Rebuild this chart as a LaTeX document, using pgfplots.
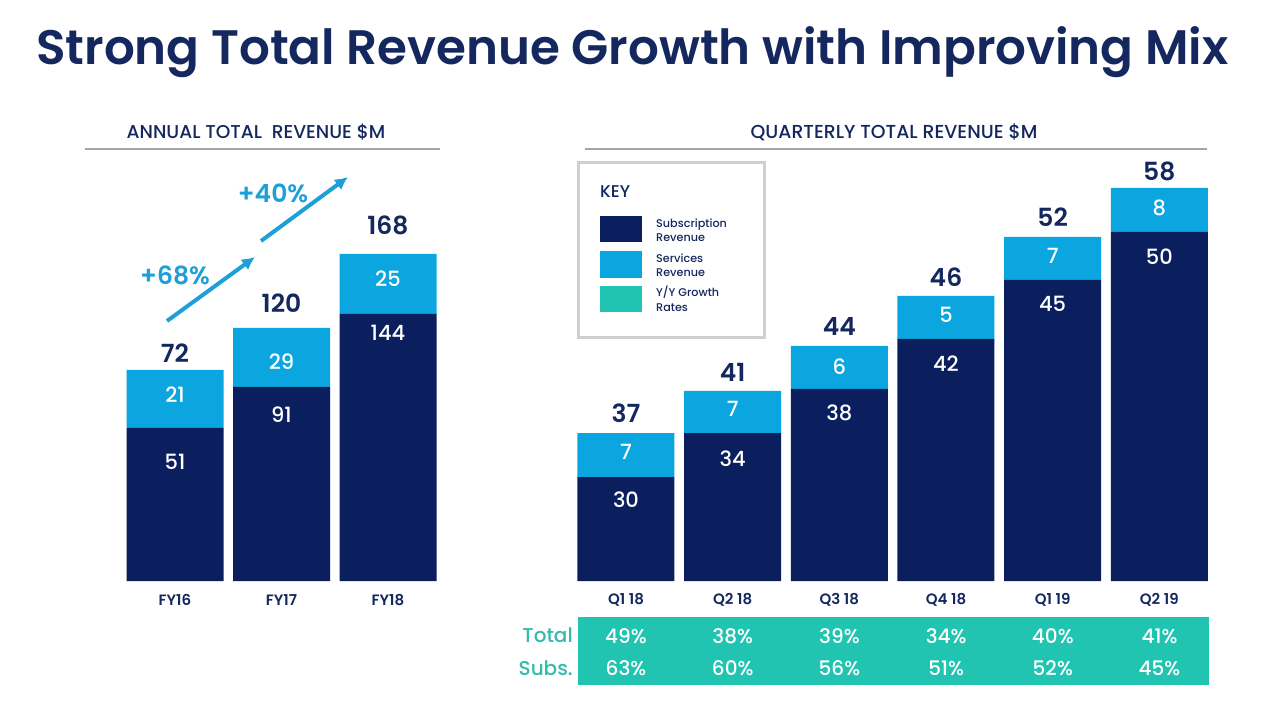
\documentclass[border=0pt]{standalone}
\usepackage{fontspec}
\setmainfont{Poppins Medium}[BoldFont={Poppins SemiBold}]
\usepackage{pgfplots}
\pgfplotsset{compat=1.18}
\usepackage{pgfplotstable}
\usetikzlibrary{arrows.meta}

\definecolor{navy}{HTML}{0B1F5E}
\definecolor{sky}{HTML}{0BA6DF}
\definecolor{tealc}{HTML}{20C4B0}
\definecolor{titleblue}{HTML}{14285F}
\definecolor{arrowblue}{HTML}{1DA0D8}
\definecolor{keygray}{HTML}{CDCFD2}
\definecolor{linegray}{HTML}{A3A5A8}
\definecolor{tabletext}{HTML}{34BBAB}

% subh, servh: drawn bar heights of the (not-to-scale) original;
% ysub, yserv, ytot: where its labels sit; sub, serv, total: the values
\pgfplotstableread{
x subh servh ysub yserv ytot sub serv total
0 153 58 119 186 228 51 21 72
1 194 59 166 219 278 91 29 120
2 267 60 248 302 356 144 25 168
}\annual

\pgfplotstableread{
x subh servh ysub yserv ytot sub serv total
0 104 44 81 129 168 30 7 37
1 148 42 122 172 209 34 7 41
2 192 43 168 214 254 38 6 44
3 242 43 217 266 304 42 5 46
4 301 43 277 325 364 45 7 52
5 349 44 324 373 410 50 8 58
}\quarterly

\newcommand{\fs}[1]{\fontsize{#1}{#1}\selectfont}

\pgfplotsset{
  frame/.style={
    scale only axis, height=400pt,
    ymin=0, ymax=400,
    clip=false,
  },
  revbars/.style={
    frame,
    ybar stacked, bar width=97pt,
    axis line style={draw=none}, tick style={draw=none},
    ytick=\empty, xtick=data,
    xticklabel style={font=\fs{15}\bfseries, text=titleblue, anchor=center, yshift=-19pt},
  },
  labels/.style={frame, hide axis},
  lab/.style={only marks, mark=none, nodes near coords={\pgfplotspointmeta},
    point meta=explicit symbolic,
    nodes near coords style={anchor=center, inner sep=0pt, #1}},
}

\begin{document}
\begin{tikzpicture}[x=1pt,y=1pt]
\fill[white] (0,0) rectangle (1280,705);
\useasboundingbox (0,0) rectangle (1280,705);

% title
\node[anchor=base west, text=titleblue, inner sep=0] at (36,705-65)
  {\fs{48.4}\bfseries Strong Total Revenue Growth with Improving Mix};

% section headings
\node[text=titleblue, inner sep=0] at (256,705-132) {\fs{18.6}ANNUAL TOTAL\ \ REVENUE \$M};
\draw[linegray, line width=1.5pt] (85,705-149) -- (440,705-149);
\node[text=titleblue, inner sep=0] at (894,705-132) {\fs{18.8}QUARTERLY TOTAL REVENUE \$M};
\draw[linegray, line width=1.5pt] (585,705-149) -- (1207,705-149);

% annual chart
\begin{axis}[revbars, at={(121.75pt,124pt)}, anchor=south west,
  width=319.5pt, xmin=-0.5, xmax=2.5,
  xticklabels={FY16,FY17,FY18}]
\addplot[fill=navy, draw=none] table[x=x, y=subh] {\annual};
\addplot[fill=sky, draw=none] table[x=x, y=servh] {\annual};
\end{axis}
\begin{axis}[labels, at={(121.75pt,124pt)}, anchor=south west,
  width=319.5pt, xmin=-0.5, xmax=2.5]
\addplot[lab={text=white, font=\fs{21}}] table[x=x, y=ysub, meta=sub] {\annual};
\addplot[lab={text=white, font=\fs{21}}] table[x=x, y=yserv, meta=serv] {\annual};
\addplot[lab={text=titleblue, font=\fs{25}\bfseries}] table[x=x, y=ytot, meta=total] {\annual};
\end{axis}

% quarterly chart
\begin{axis}[revbars, at={(572.65pt,124pt)}, anchor=south west,
  width=640pt, xmin=-0.5, xmax=5.5,
  xticklabels={Q1 18,Q2 18,Q3 18,Q4 18,Q1 19,Q2 19}]
\addplot[fill=navy, draw=none] table[x=x, y=subh] {\quarterly};
\addplot[fill=sky, draw=none] table[x=x, y=servh] {\quarterly};
\end{axis}
\begin{axis}[labels, at={(572.65pt,124pt)}, anchor=south west,
  width=640pt, xmin=-0.5, xmax=5.5]
\addplot[lab={text=white, font=\fs{21}}] table[x=x, y=ysub, meta=sub] {\quarterly};
\addplot[lab={text=white, font=\fs{21}}] table[x=x, y=yserv, meta=serv] {\quarterly};
\addplot[lab={text=titleblue, font=\fs{25}\bfseries}] table[x=x, y=ytot, meta=total] {\quarterly};
\end{axis}

% growth arrows
\draw[arrowblue, line width=4pt, -{Latex[length=13pt,width=13pt]}] (167,705-321) -- (255,705-257);
\draw[arrowblue, line width=4pt, -{Latex[length=13pt,width=13pt]}] (261,705-241) -- (348,705-177);
\node[text=arrowblue, inner sep=0] at (175,705-275) {\fs{25}\bfseries +68\%};
\node[text=arrowblue, inner sep=0] at (273,705-193) {\fs{25}\bfseries +40\%};

% key
\draw[keygray, line width=3pt] (578,705-163) rectangle (764,705-338);
\node[anchor=west, text=titleblue, inner sep=0] at (600,705-192) {\fs{17}KEY};
\fill[navy] (600,705-216) rectangle (642,705-242);
\fill[sky]  (600,705-251) rectangle (642,705-278);
\fill[tealc] (600,705-286) rectangle (642,705-312);
\node[anchor=west, text=titleblue, inner sep=0, align=left] at (656,705-230) {\fs{11.2}Subscription\\[2.5pt]\fs{11.2}Revenue};
\node[anchor=west, text=titleblue, inner sep=0, align=left] at (656,705-265) {\fs{11.2}Services\\[2.5pt]\fs{11.2}Revenue};
\node[anchor=west, text=titleblue, inner sep=0, align=left] at (656,705-299) {\fs{11.2}Y/Y Growth\\[2.5pt]\fs{11.2}Rates};

% growth-rate table
\fill[tealc] (578,705-617) rectangle (1209,705-685);
\node[anchor=east, text=tabletext, inner sep=0] at (573,705-635) {\fs{20}Total};
\node[anchor=east, text=tabletext, inner sep=0] at (573,705-668) {\fs{20}Subs.};
\foreach \v [count=\i from 0] in {49,38,39,34,40,41}
  \node[text=white, inner sep=0] at (626+106.7*\i,705-636) {\fs{20}\v\%};
\foreach \v [count=\i from 0] in {63,60,56,51,52,45}
  \node[text=white, inner sep=0] at (626+106.7*\i,705-668) {\fs{20}\v\%};
\end{tikzpicture}
\end{document}
